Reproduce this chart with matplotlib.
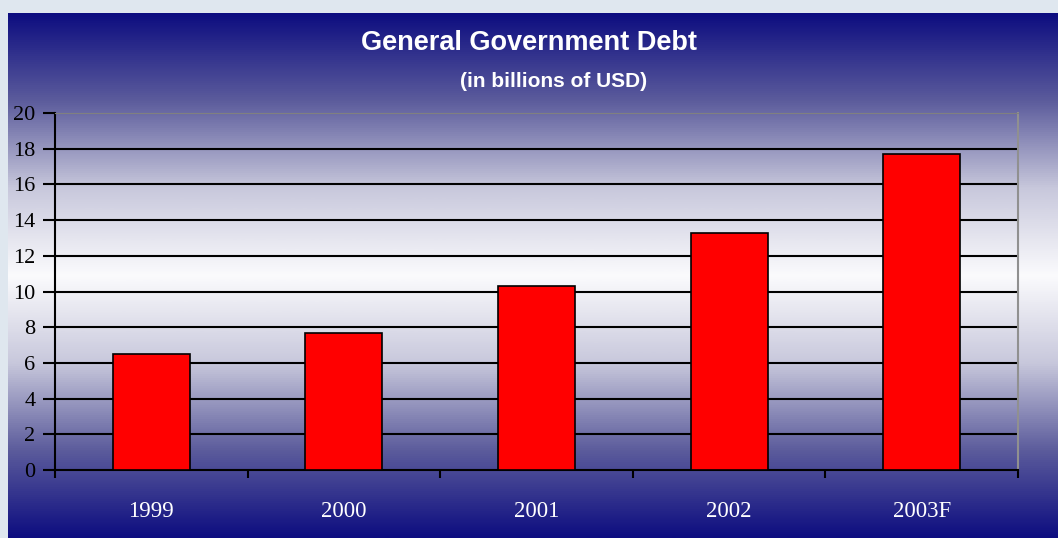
import matplotlib
matplotlib.use('Agg')
import matplotlib.pyplot as plt
import numpy as np
from matplotlib.colors import LinearSegmentedColormap

years  = ["1999", "2000", "2001", "2002", "2003F"]
debt   = [6.5, 7.7, 10.3, 13.3, 17.7]
yticks = [0, 2, 4, 6, 8, 10, 12, 14, 16, 18, 20]

W, H = 1058, 538
fig = plt.figure(figsize=(W / 100, H / 100), dpi=100)
fig.patch.set_facecolor("#dfe7ef")

# ── gradient panel (dark navy -> white -> dark navy) ─────────────────────────
bg = fig.add_axes([0, 0, 1, 1])
bg.set_xlim(0, W)
bg.set_ylim(H, 0)
bg.axis("off")
cmap = LinearSegmentedColormap.from_list(
    "navy", ["#0d0d80", "#5c5c9c", "#c8c8dc", "#fbfbfd", "#c8c8dc", "#5c5c9c", "#0d0d80"])
grad = np.linspace(0, 1, 512).reshape(-1, 1)
bg.imshow(grad, cmap=cmap, aspect="auto", extent=(8, W, H, 13), zorder=0)

# ── plot area ────────────────────────────────────────────────────────────────
ax = fig.add_axes([55 / W, 1 - 470 / H, (1018 - 55) / W, (470 - 113) / H])
ax.patch.set_alpha(0)

x = np.arange(len(years))
ax.bar(x, debt, width=0.4, color="#ff0000", edgecolor="black", linewidth=1.2, zorder=3)

ax.set_xlim(-0.5, len(years) - 0.5)
ax.set_ylim(0, 20)
ax.set_yticks(yticks)
ax.set_yticklabels([str(v) for v in yticks], family="Liberation Serif",
                   fontsize=16, color="black")
for v in yticks[1:-1]:
    ax.axhline(v, color="black", lw=1.5, zorder=1)

ax.set_xticks(np.arange(len(years) + 1) - 0.5)
ax.set_xticklabels([])
ax.set_xticks(x, minor=True)
ax.set_xticklabels(years, minor=True, family="Liberation Serif",
                   fontsize=16.5, color="white")
ax.tick_params(axis="x", which="minor", length=0, pad=22)
ax.tick_params(axis="x", which="major", direction="out", length=6, width=1.5, color="black")
ax.tick_params(axis="y", direction="out", length=9, width=1.5, color="black", pad=5)

ax.spines["left"].set_color("black")
ax.spines["left"].set_linewidth(1.5)
ax.spines["bottom"].set_color("black")
ax.spines["bottom"].set_linewidth(1.5)
ax.spines["top"].set_color("#808080")
ax.spines["right"].set_color("#909090")
ax.spines["right"].set_linewidth(1.5)

# ── titles ───────────────────────────────────────────────────────────────────
fig.text(529 / W, 1 - 43 / H, "General Government Debt", ha="center", va="center",
         color="white", fontsize=19.5, fontweight="bold", family="Liberation Sans")
fig.text(554 / W, 1 - 82 / H, "(in billions of USD)", ha="center", va="center",
         color="white", fontsize=15, fontweight="bold", family="Liberation Sans")

plt.savefig("out.png", dpi=100, facecolor=fig.get_facecolor())
